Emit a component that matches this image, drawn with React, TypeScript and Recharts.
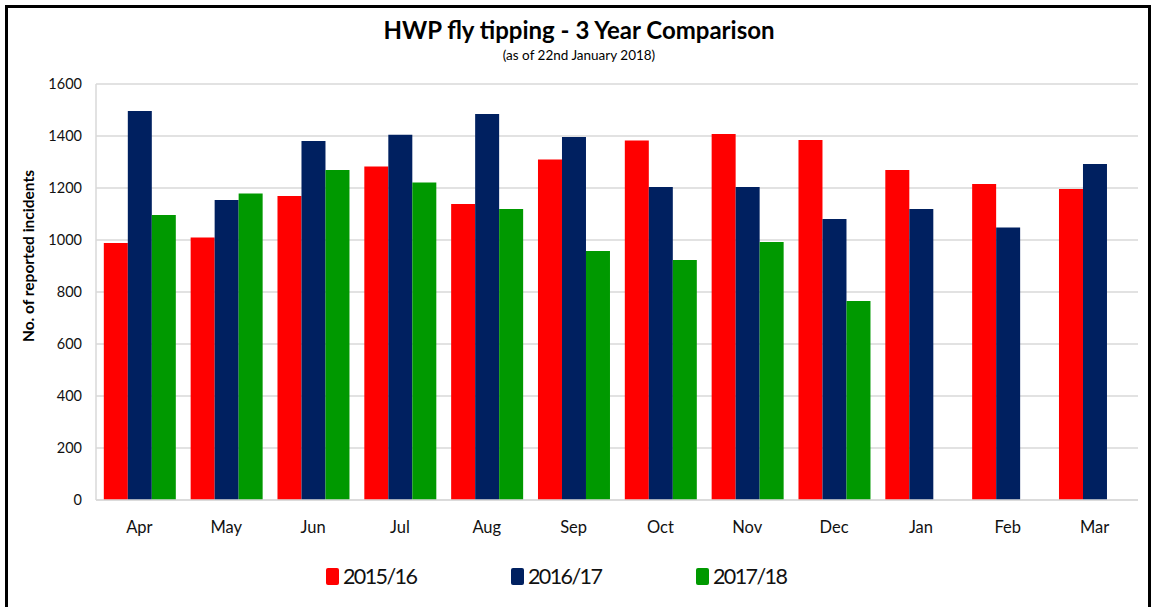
import { Bar, BarChart, CartesianGrid, XAxis, YAxis } from "recharts";

const months = ['Apr', 'May', 'Jun', 'Jul', 'Aug', 'Sep', 'Oct', 'Nov', 'Dec', 'Jan', 'Feb', 'Mar'];
const fy1516 = [988, 1010, 1169, 1283, 1138, 1310, 1383, 1408, 1385, 1269, 1215, 1196];
const fy1617 = [1496, 1154, 1381, 1405, 1485, 1396, 1204, 1204, 1081, 1119, 1048, 1292];
const fy1718: (number | null)[] = [1096, 1179, 1269, 1221, 1119, 958, 923, 992, 765, null, null, null];
const yTicks = [0, 200, 400, 600, 800, 1000, 1200, 1400, 1600];

const series = [
    { key: 'fy1516', name: '2015/16', color: '#ff0000' },
    { key: 'fy1617', name: '2016/17', color: '#002060' },
    { key: 'fy1718', name: '2017/18', color: '#009900' },
];

const font = 'Lato, "Open Sans", sans-serif';

export default function App() {
    const data = months.map((m, i) => ({
        month: m,
        fy1516: fy1516[i],
        fy1617: fy1617[i],
        fy1718: fy1718[i],
    }));

    return (
        <div style={{ position: 'absolute', left: 0, top: 0, width: 1152, height: 607, background: '#fff', overflow: 'hidden' }}>
            <div style={{ position: 'absolute', left: 5, top: 5, width: 1140, height: 620, border: '3px solid #000' }} />
            <div style={{ position: 'absolute', left: 0, top: 15, width: 1158, textAlign: 'center', fontFamily: font, fontWeight: 700, fontSize: 24, color: '#000' }}>
                HWP fly tipping - 3 Year Comparison
            </div>
            <div style={{ position: 'absolute', left: 0, top: 47, width: 1158, textAlign: 'center', fontFamily: font, fontSize: 13.5, color: '#000' }}>
                (as of 22nd January 2018)
            </div>
            <div style={{ position: 'absolute', left: 28, top: 256, width: 0, height: 0 }}>
                <div style={{ position: 'absolute', left: -150, top: -10, width: 300, textAlign: 'center', transform: 'rotate(-90deg)', fontFamily: font, fontWeight: 700, fontSize: 15.5, lineHeight: '20px', color: '#000', whiteSpace: 'nowrap' }}>
                    No. of reported incidents
                </div>
            </div>
            <div style={{ position: 'absolute', left: 0, top: 0 }}>
                <BarChart
                    width={1152}
                    height={607}
                    data={data}
                    margin={{ top: 84, right: 14, left: 0, bottom: 0 }}
                    barCategoryGap="9%"
                    barGap={0}
                >
                    <CartesianGrid vertical={false} stroke="#d9d9d9" strokeWidth={1.5} />
                    <XAxis
                        dataKey="month"
                        height={107}
                        tickLine={false}
                        axisLine={{ stroke: '#d9d9d9', strokeWidth: 1.5 }}
                        tick={{ fontSize: 16.5, fill: '#111', fontFamily: font, dy: 13 }}
                    />
                    <YAxis
                        width={96}
                        domain={[0, 1600]}
                        ticks={yTicks}
                        interval={0}
                        tickLine={false}
                        axisLine={{ stroke: '#d9d9d9', strokeWidth: 1.5 }}
                        tick={{ fontSize: 14.5, fill: '#111', fontFamily: font, dx: -6 }}
                    />
                    {series.map(s => (
                        <Bar key={s.key} dataKey={s.key} name={s.name} fill={s.color} isAnimationActive={false} />
                    ))}
                </BarChart>
            </div>
            <div style={{ position: 'absolute', left: 326, top: 563, display: 'flex', fontFamily: font, fontSize: 21.5, letterSpacing: -1.6, color: '#111' }}>
                {series.map(s => (
                    <div key={s.key} style={{ width: 185, display: 'flex', alignItems: 'center' }}>
                        <span style={{ width: 13, height: 17, background: s.color, borderRadius: 2, marginRight: 4, display: 'inline-block' }} />
                        <span>{s.name}</span>
                    </div>
                ))}
            </div>
        </div>
    );
}
